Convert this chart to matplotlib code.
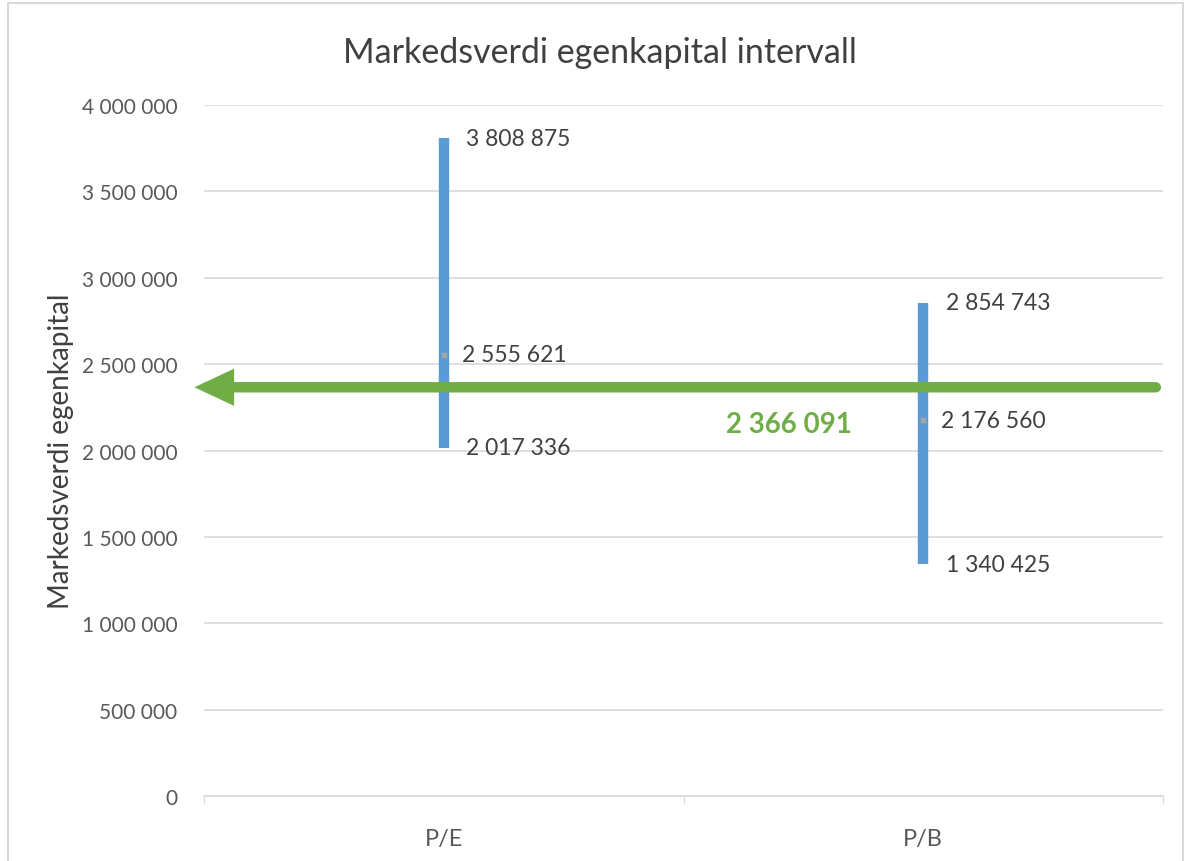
import matplotlib.pyplot as plt
from matplotlib.patches import Rectangle
from matplotlib.ticker import FuncFormatter

plt.rcParams['font.family'] = ['Lato', 'DejaVu Sans']

# Data
categories = ['P/E', 'P/B']
high_vals = [3808875, 2854743]
mid_vals = [2555621, 2176560]
low_vals = [2017336, 1340425]
target_val = 2366091

blue = '#5B9BD5'
green = '#70AD47'
text_col = '#404040'
tick_col = '#595959'
grid_col = '#D9D9D9'


def fmt(v):
    return f"{int(v):,}".replace(',', ' ')


fig = plt.figure(figsize=(11.84, 8.62), dpi=100)
ax = fig.add_axes([0.1723, 0.0754, 0.8100, 0.8016])

xpos = [i + 0.5 for i in range(len(categories))]

# vertical range bars
for x, lo, hi, mid in zip(xpos, low_vals, high_vals, mid_vals):
    ax.plot([x, x], [lo, hi], color=blue, linewidth=7.5, solid_capstyle='butt', zorder=3)
    ax.plot([x], [mid], marker='s', markersize=3, color='#A5A5A5', zorder=4)
    ax.annotate(fmt(hi), (x, hi), xytext=(16, 0), textcoords='offset points',
                va='center', ha='left', fontsize=16.5, color=text_col)
    ax.annotate(fmt(mid), (x, mid), xytext=(13, 0), textcoords='offset points',
                va='center', ha='left', fontsize=16.5, color=text_col)
    ax.annotate(fmt(lo), (x, lo), xytext=(16, 0), textcoords='offset points',
                va='center', ha='left', fontsize=16.5, color=text_col)

# green arrow across chart
ax.annotate('', xy=(-0.02, target_val), xytext=(1.985, target_val),
            arrowprops=dict(arrowstyle='-|>,head_length=1.6,head_width=0.75',
                            color=green, lw=7.5, shrinkA=0, shrinkB=0,
                            joinstyle='miter'),
            annotation_clip=False, zorder=5)
ax.text(1.22, target_val - 210000, fmt(target_val), color=green, fontsize=20,
        fontweight='bold', ha='center', va='center')

ax.set_xlim(0, 2)
ax.set_ylim(0, 4000000)
ax.set_yticks(range(0, 4000001, 500000))
ax.yaxis.set_major_formatter(FuncFormatter(lambda v, p: fmt(v)))
ax.set_xticks([0, 1, 2])
ax.set_xticklabels([])
ax.set_xticks(xpos, minor=True)
ax.set_xticklabels(categories, minor=True)
ax.tick_params(axis='x', which='major', length=6, color=grid_col, direction='out')
ax.tick_params(axis='x', which='minor', length=0, pad=23, labelsize=17, labelcolor=tick_col)
ax.tick_params(axis='y', length=0, pad=19, labelsize=15, labelcolor=tick_col)
ax.grid(axis='y', color=grid_col, linewidth=1.2, zorder=0)
for s in ['top', 'right', 'left']:
    ax.spines[s].set_visible(False)
ax.spines['bottom'].set_color(grid_col)
ax.spines['bottom'].set_linewidth(1.2)
ax.set_axisbelow(True)

ax.set_ylabel('Markedsverdi egenkapital', fontsize=20, color=text_col, labelpad=6)
fig.text(0.507, 0.939, 'Markedsverdi egenkapital intervall', ha='center', va='center',
         fontsize=24.5, color=text_col)

# chart border
fig.patches.append(Rectangle((0.007, -0.01), 0.992, 1.005, transform=fig.transFigure,
                             fill=False, edgecolor=grid_col, linewidth=1.5))

fig.savefig('out.png', dpi=100)
